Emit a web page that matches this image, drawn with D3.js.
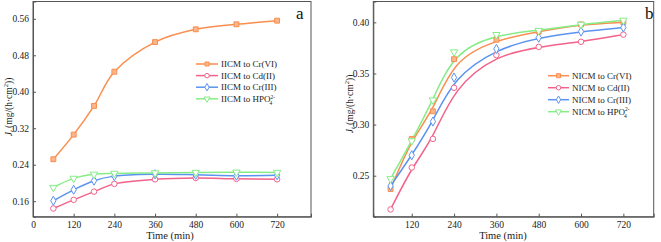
<!DOCTYPE html>
<html><head><meta charset="utf-8">
<script src="https://cdn.jsdelivr.net/npm/d3@7"></script>
<style>body{margin:0;background:#fff}svg{display:block}svg text{font-family:"Liberation Serif","Times New Roman",serif}</style>
</head><body><svg id="c" width="661" height="242"></svg>
<script>
const times = [60,120,180,240,360,480,600,720];
const seriesNames = ["Cr(VI)","Cd(II)","Cr(III)","HPO4"];
// Panel a (IICM)
const aCrVI  = [0.252,0.306,0.369,0.444,0.509,0.537,0.548,0.556];
const aCdII  = [0.144,0.163,0.181,0.198,0.208,0.211,0.209,0.208];
const aCrIII = [0.161,0.185,0.205,0.215,0.219,0.218,0.216,0.217];
const aHPO4  = [0.190,0.210,0.219,0.221,0.222,0.223,0.2235,0.223];
// Panel b (NICM)
const bCrVI  = [0.237,0.286,0.313,0.364,0.383,0.391,0.398,0.400];
const bCdII  = [0.217,0.258,0.286,0.336,0.368,0.376,0.381,0.388];
const bCrIII = [0.240,0.270,0.303,0.346,0.374,0.385,0.391,0.395];
const bHPO4  = [0.247,0.284,0.324,0.371,0.388,0.392,0.398,0.402];
const aYTicks = [0.16,0.24,0.32,0.40,0.48,0.56];
const bYTicks = [0.25,0.30,0.35,0.40];
const aXTicks = [0,120,240,360,480,600,720];
const bXTicks = [120,240,360,480,600,720];

const colors = ["#F98E4E","#F2628A","#5B93F0","#86EC86"];
const symbols = [d3.symbolSquare, d3.symbolCircle, d3.symbolDiamond, d3.symbolTriangle];
const svg = d3.select("#c");
const FONT = "'Liberation Serif','Times New Roman',serif";

function panel(cfg){
  const g = svg.append("g");
  const x = d3.scaleLinear().domain(cfg.xd).range([cfg.l, cfg.r]);
  const y = d3.scaleLinear().domain(cfg.yd).range([cfg.b, cfg.t]);
  g.append("rect").attr("x",cfg.l).attr("y",cfg.t).attr("width",cfg.r-cfg.l).attr("height",cfg.b-cfg.t)
    .attr("fill","none").attr("stroke","#555").attr("stroke-width",1);
  const xa = g.append("g").attr("transform",`translate(0,${cfg.b})`)
    .call(d3.axisBottom(x).tickValues(cfg.xt).tickSize(-3).tickPadding(5).tickFormat(d3.format("d")));
  const ya = g.append("g").attr("transform",`translate(${cfg.l},0)`)
    .call(d3.axisLeft(y).tickValues(cfg.yt).tickSize(-3).tickPadding(4).tickFormat(d3.format(".2f")));
  [xa,ya].forEach(a=>{a.attr("font-family",FONT);a.select(".domain").attr("stroke","#555");
    a.selectAll("line").attr("stroke","#555");
    a.selectAll("text").style("font-family",FONT).attr("font-size",9.5).attr("fill","#222");});
  const line = d3.line().x((d,i)=>x(times[i])).y(d=>y(d)).curve(cfg.curve);
  cfg.data.forEach((s,k)=>{
    g.append("path").datum(s).attr("d",line).attr("fill","none").attr("stroke",colors[k]).attr("stroke-width",1.5);
  });
  cfg.data.forEach((s,k)=>{
    g.selectAll(null).data(s).enter().append("path")
      .attr("d",d3.symbol().type(symbols[k]).size(24))
      .attr("transform",(d,i)=>`translate(${x(times[i])},${y(d)})${k===3?" rotate(180)":""}`)
      .attr("fill",k===0?"#FBB58A":"#fff").attr("stroke",colors[k]).attr("stroke-width",1);
  });
  cfg.data.forEach((s,k)=>{
    const ly = cfg.ly + k*cfg.lstep;
    g.append("line").attr("x1",cfg.lx).attr("x2",cfg.lx+cfg.lw).attr("y1",ly).attr("y2",ly)
      .attr("stroke",colors[k]).attr("stroke-width",1.5);
    g.append("path").attr("d",d3.symbol().type(symbols[k]).size(16)())
      .attr("transform",`translate(${cfg.lx+cfg.lw/2},${ly})${k===3?" rotate(180)":""}`)
      .attr("fill",k===0?"#FBB58A":"#fff").attr("stroke",colors[k]).attr("stroke-width",1);
    const t = g.append("text").attr("x",cfg.lx+cfg.lw+3).attr("y",ly+3.2).attr("font-size",9).attr("fill","#222");
    if(k<3){ t.text(`${cfg.prefix} to ${seriesNames[k]}`); }
    else {
      t.append("tspan").text(`${cfg.prefix} to HPO`);
      t.append("tspan").attr("font-size",5.5).attr("dy",-3.5).text("2-");
      t.append("tspan").attr("font-size",5.5).attr("dx",-5.5).attr("dy",6.5).text("4");
    }
  });
  g.append("text").attr("x",cfg.xlab).attr("y",239).attr("text-anchor","middle").attr("font-size",10.5).attr("fill","#222").text("Time (min)");
  const yl = g.append("text").attr("transform",`translate(${cfg.ylx},${cfg.yly}) rotate(-90)`)
    .attr("text-anchor","middle").attr("font-size",9.5).attr("fill","#222");
  yl.append("tspan").attr("font-style","italic").text("J");
  yl.append("tspan").attr("font-style","italic").attr("font-size",6.5).attr("dy",2).text("t");
  yl.append("tspan").attr("dy",-2).text(" (mg/(h·cm");
  yl.append("tspan").attr("font-size",6.5).attr("dy",-4).text("2");
  yl.append("tspan").attr("dy",4).text("))");
  g.append("text").attr("x",cfg.tagx).attr("y",19).attr("font-size",17).attr("fill","#111").text(cfg.tag);
}

panel({l:33,r:311,t:1.5,b:216.7,xd:[0,820],yd:[0.126,0.598],xt:aXTicks,yt:aYTicks,
  data:[aCrVI,aCdII,aCrIII,aHPO4],curve:d3.curveCatmullRom,prefix:"IICM",
  lx:196,lw:22,ly:64,lstep:11.6,xlab:170,ylx:12,yly:107,tag:"a",tagx:296});
panel({l:373.3,r:653.7,t:1.5,b:216.7,xd:[11,806],yd:[0.2099,0.4204],xt:bXTicks,yt:bYTicks,
  data:[bCrVI,bCdII,bCrIII,bHPO4],curve:d3.curveBasis,prefix:"NICM",
  lx:548,lw:21,ly:75.7,lstep:12,xlab:503,ylx:353,yly:104,tag:"b",tagx:645});
</script></body></html>
